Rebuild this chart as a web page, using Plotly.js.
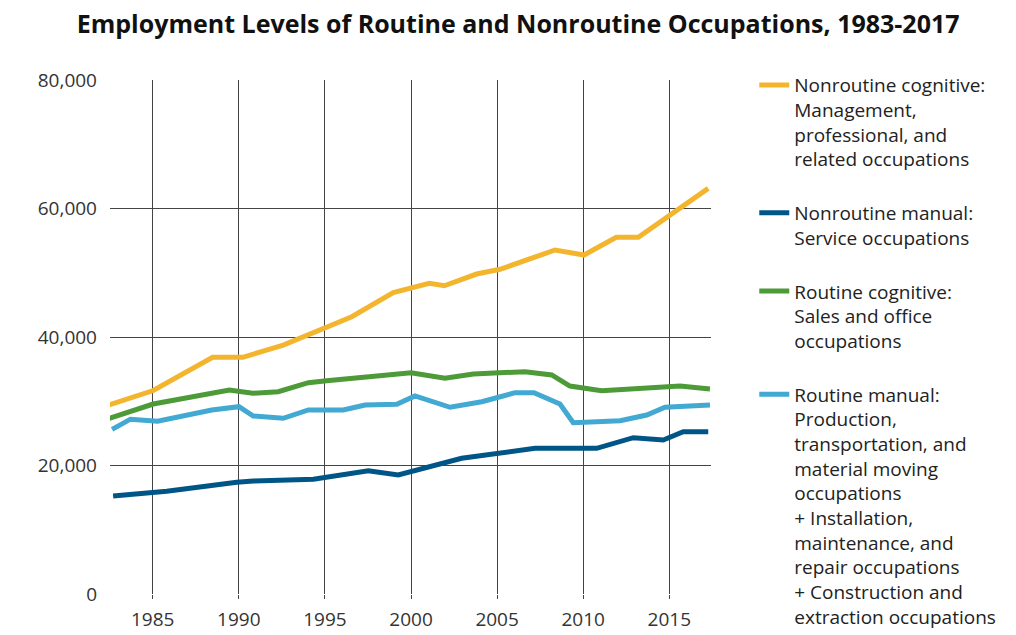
<!DOCTYPE html>
<html>
<head>
<meta charset="utf-8">
<script src="https://cdn.plot.ly/plotly-3.0.1.min.js"></script>
<style>
  html, body { margin: 0; padding: 0; background: #fff; }
  #chart { width: 1016px; height: 635px; }
</style>
</head>
<body>
<div id="chart"></div>
<script>
// ---- Data (x = decimal year, y = employment, thousands) ----
const seriesNames = [
  "Nonroutine cognitive:<br>Management,<br>professional, and<br>related occupations",
  "Nonroutine manual:<br>Service occupations",
  "Routine cognitive:<br>Sales and office<br>occupations",
  "Routine manual:<br>Production,<br>transportation, and<br>material moving<br>occupations<br>+ Installation,<br>maintenance, and<br>repair occupations<br>+ Construction and<br>extraction occupations"
];

const nonroutineCognitiveYears = [1982.27, 1985.03, 1988.48, 1990.23, 1992.58, 1996.56, 1998.97, 2001.06, 2001.93, 2003.81, 2005.17, 2008.36, 2010.05, 2011.92, 2013.2, 2017.26];
const nonroutineCognitiveValues = [29260, 31670, 36840, 36840, 38750, 43160, 46930, 48360, 47980, 49800, 50540, 53540, 52760, 55520, 55520, 63140];

const nonroutineManualYears = [1982.7, 1985.03, 1985.81, 1989.88, 1990.84, 1994.33, 1997.52, 1999.26, 2002.94, 2007.2, 2010.78, 2012.91, 2014.65, 2015.81, 2017.26];
const nonroutineManualValues = [15250, 15770, 16000, 17380, 17590, 17850, 19190, 18520, 21120, 22680, 22680, 24330, 23970, 25260, 25260];

const routineCognitiveYears = [1982.29, 1983.87, 1985.03, 1989.45, 1990.81, 1992.29, 1994.04, 1995.1, 2000.0, 2001.97, 2003.62, 2006.62, 2008.17, 2009.23, 2011.07, 2015.62, 2017.36];
const routineCognitiveValues = [27190, 28680, 29570, 31750, 31240, 31490, 32890, 33200, 34440, 33570, 34240, 34600, 34090, 32370, 31640, 32370, 31910];

const routineManualYears = [1982.64, 1983.71, 1985.28, 1988.43, 1990.01, 1990.84, 1992.58, 1994.04, 1996.07, 1997.33, 1999.17, 2000.23, 2002.27, 2004.11, 2006.04, 2007.14, 2008.65, 2009.42, 2012.14, 2013.69, 2014.75, 2017.36];
const routineManualValues = [25630, 27210, 26880, 28640, 29150, 27700, 27350, 28640, 28640, 29420, 29520, 30820, 29060, 29930, 31330, 31330, 29570, 26660, 26970, 27860, 29060, 29420];

const xTickValues = [1985, 1990, 1995, 2000, 2005, 2010, 2015];
const yTickValues = [0, 20000, 40000, 60000, 80000];

const colors = ["#F4B52E", "#005587", "#4D9A38", "#41A9D2"];

// ---- Traces ----
const xs = [nonroutineCognitiveYears, nonroutineManualYears, routineCognitiveYears, routineManualYears];
const ys = [nonroutineCognitiveValues, nonroutineManualValues, routineCognitiveValues, routineManualValues];

const traces = seriesNames.map((name, i) => ({
  type: "scatter",
  mode: "lines",
  name: name,
  x: xs[i],
  y: ys[i],
  line: { color: colors[i], width: 5 },
  legendgroup: "g" + i,
  hoverinfo: "x+y"
}));

const FONT = "'Open Sans', Lato, 'DejaVu Sans', sans-serif";

const layout = {
  width: 1016,
  height: 635,
  paper_bgcolor: "#ffffff",
  plot_bgcolor: "#ffffff",
  margin: { l: 110, r: 305, t: 80, b: 41, pad: 0, autoexpand: false },
  font: { family: FONT, size: 19, color: "#222" },
  title: {
    text: "<b>Employment Levels of Routine and Nonroutine Occupations, 1983-2017</b>",
    font: { family: FONT, size: 25, color: "#111" },
    x: 0.51, xanchor: "center", xref: "container",
    y: 0.962, yanchor: "middle", yref: "container"
  },
  xaxis: {
    range: [1982.52, 2017.42],
    tickvals: xTickValues,
    ticktext: xTickValues.map(String),
    showgrid: true,
    gridcolor: "#444",
    gridwidth: 1,
    zeroline: false,
    showline: false,
    ticks: "outside",
    ticklen: 4,
    tickcolor: "#444",
    ticklabelstandoff: 4,
    tickfont: { family: FONT, size: 19, color: "#333" }
  },
  yaxis: {
    range: [0, 80000],
    tickvals: yTickValues,
    tickformat: ",",
    showgrid: true,
    gridcolor: "#444",
    gridwidth: 1,
    zeroline: false,
    showline: false,
    ticks: "",
    ticklabelstandoff: 12,
    tickfont: { family: FONT, size: 19, color: "#333" }
  },
  showlegend: true,
  legend: {
    x: 1.072, xanchor: "left",
    yref: "container",
    y: 0.896, yanchor: "top",
    maxheight: 600,
    valign: "top",
    tracegroupgap: 26,
    traceorder: "grouped",
    font: { family: FONT, size: 19, color: "#222" },
    bgcolor: "rgba(0,0,0,0)"
  }
};

Plotly.newPlot("chart", traces, layout, { displayModeBar: false, staticPlot: true });
</script>
</body>
</html>
